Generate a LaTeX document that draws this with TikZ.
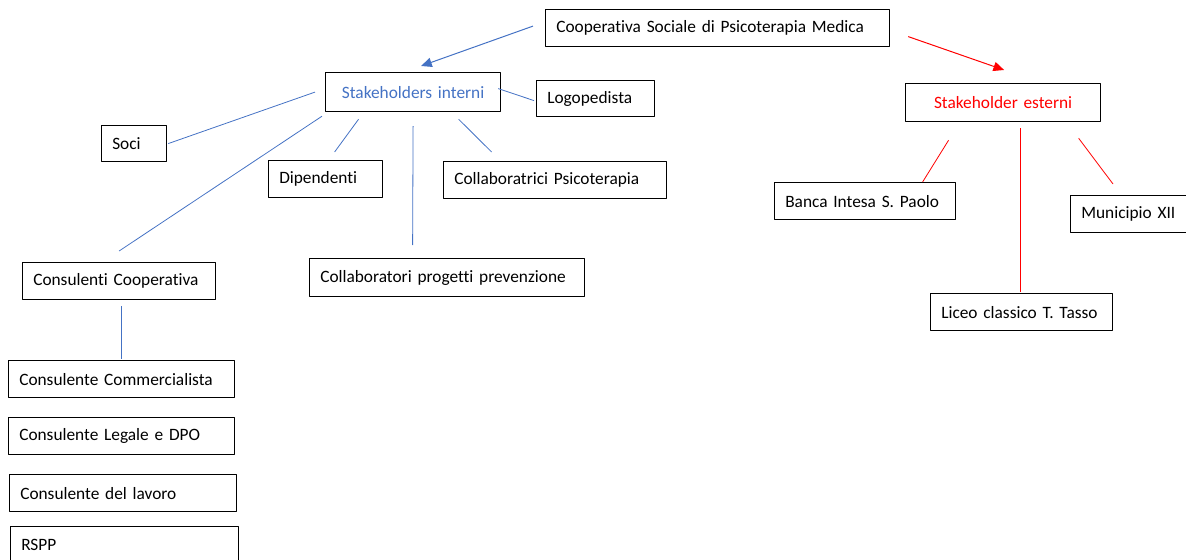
\documentclass[tikz,border=0pt]{standalone}
\usepackage{fontspec}
\setmainfont{Carlito}[Ligatures=NoCommon]
\usetikzlibrary{calc,arrows.meta}
\definecolor{azzurro}{RGB}{68,114,196}
\definecolor{rosso}{RGB}{255,0,0}
\tikzset{
box/.style={draw,line width=0.9pt,anchor=north west,align=left,inner xsep=8pt,inner ysep=2pt,minimum height=27.75pt},
lint/.style={azzurro,line width=0.6pt},
lest/.style={rosso,line width=0.6pt}
}
\begin{document}
\begin{tikzpicture}[x=0.75pt,y=-0.75pt,>={Triangle[length=8pt,width=7pt]},line join=round,font=\fontsize{13}{15}\selectfont]
\clip (0,0) rectangle (1186,560);
% radice
\node[box,text width=242pt] (coop) at (545,9) {Cooperativa Sociale di Psicoterapia Medica};
% interni
\node[box,text width=115.25pt,align=center,minimum height=29.25pt,text=azzurro] (si) at (325,72) {Stakeholders interni};
\node[box,text width=72.5pt,minimum height=27pt] (logo) at (536,80) {Logopedista};
\node[box,text width=32.75pt,minimum height=27pt] (soci) at (101,125) {Soci};
\node[box,text width=69.5pt] (dip) at (268,160) {Dipendenti};
\node[box,text width=151.25pt] (cp) at (443,161) {Collaboratrici Psicoterapia};
\node[box,text width=128.75pt] (cc) at (22,262) {Consulenti Cooperativa};
\node[box,text width=190.25pt,minimum height=28.5pt] (pp) at (309,258) {Collaboratori progetti prevenzione};
\node[box,text width=153.5pt] (com) at (8,360) {Consulente Commercialista};
\node[box,text width=153.5pt] (leg) at (8,417) {Consulente Legale e DPO};
\node[box,text width=154.25pt] (lav) at (9,474) {Consulente del lavoro};
\node[box,text width=155pt] (rspp) at (10,526) {RSPP};
% esterni
\node[box,text width=130.25pt,align=center,minimum height=28.5pt,text=rosso] (se) at (905,83) {Stakeholder esterni};
\node[box,text width=119.75pt] (banca) at (774,182) {Banca Intesa S. Paolo};
\node[box,text width=120.5pt] (liceo) at (930,293) {Liceo classico T. Tasso};
\node[box,text width=72.5pt] (muni) at (1070,195) {Municipio XII};
%
\draw[->,lint,line width=0.75pt] ($(coop.west)+(-12,-2)$) -- ($(si.north)+(8,-6)$);
\draw[->,lest,line width=0.75pt] ($(coop.east)+(18,8.5)$) -- ($(se.north)+(1,-13)$);
%
\draw[lint] ($(si.east)+(-3,-3.5)$) -- ($(logo.west)+(-2,2)$);
\draw[lint] ($(si.west)+(-10,0)$) -- ($(soci.east)+(1,0)$);
\draw[lint] ($(si.south west)+(-3,4)$) -- ($(cc.north)+(0,-11)$);
\draw[lint] ($(si.south)+(-54.5,7)$) -- ($(dip.north)+(9,-8)$);
\draw[lint] ($(si.south)+(0,14)$) -- ($(pp.north)+(-34.5,-13)$);
\draw[lint] ($(si.south)+(45.5,7)$) -- ($(cp.north)+(-63.5,-9)$);
\draw[lint] ($(cc.south)+(2.5,6)$) -- ($(com.north)+(0,-1)$);
%
\draw[lest] ($(se.south)+(-54.5,18)$) -- ($(banca.north)+(57.5,0)$);
\draw[lest] ($(se.south)+(17.5,6)$) -- ($(liceo.north)+(-1,-1)$);
\draw[lest] ($(se.south)+(75.5,16)$) -- ($(muni.north west)+(43,-11)$);
\end{tikzpicture}
\end{document}
